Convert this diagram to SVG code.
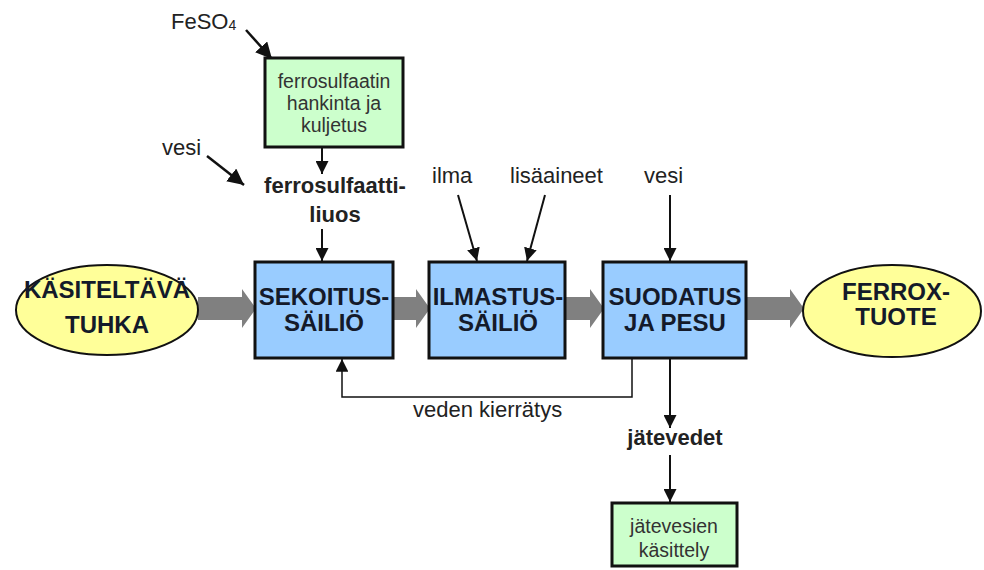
<svg xmlns="http://www.w3.org/2000/svg" width="984" height="570" viewBox="0 0 984 570">
<style>
  text{font-family:"Liberation Sans",Arial,sans-serif;}
  .big{font-size:24px;font-weight:bold;fill:#141a2a;text-anchor:middle;}
  .lbl{font-size:22px;fill:#222;}
  .blbl{font-size:22px;font-weight:bold;fill:#222;text-anchor:middle;}
  .gtxt{font-size:19.5px;fill:#333;text-anchor:middle;}
  .blue{fill:#99ccff;stroke:#111;stroke-width:3;}
  .green{fill:#ccffcc;stroke:#111;stroke-width:3;}
  .ell{fill:#ffff99;stroke:#111;stroke-width:2;}
  .conn{stroke:#111;stroke-width:2;fill:none;}
  .thk{stroke:#111;stroke-width:2.5;fill:none;}
  .thin{stroke:#111;stroke-width:1.5;fill:none;}
  .flow{fill:#808080;}
</style>
<defs>
  <marker id="ah" viewBox="0 0 10 10" refX="10" refY="5" markerWidth="6.5" markerHeight="6.5" orient="auto" markerUnits="strokeWidth">
    <path d="M0,0 L10,5 L0,10 z" fill="#111"/>
  </marker>
  <marker id="ah2" viewBox="0 0 10 10" refX="10" refY="5" markerWidth="8.5" markerHeight="8.5" orient="auto" markerUnits="strokeWidth">
    <path d="M0,0 L10,5 L0,10 z" fill="#111"/>
  </marker>
</defs>
<rect width="984" height="570" fill="#fff"/>

<g id="connectors">
  <path class="flow" d="M198,297 H242 V289 L256,308.5 L242,328 V320 H198 z"/>
  <path class="flow" d="M393,297 H416 V289 L430,308.5 L416,328 V320 H393 z"/>
  <path class="flow" d="M565,297 H590 V289 L604,308.5 L590,328 V320 H565 z"/>
  <path class="flow" d="M746,297 H790 V289 L804,308.5 L790,328 V320 H746 z"/>
  <line class="thk" x1="246" y1="30" x2="272" y2="59" marker-end="url(#ah)"/>
  <line class="thk" x1="207" y1="156" x2="244" y2="185" marker-end="url(#ah)"/>
  <line class="conn" x1="322" y1="148" x2="322" y2="174" marker-end="url(#ah)"/>
  <line class="conn" x1="322" y1="229" x2="322" y2="261" marker-end="url(#ah)"/>
  <line class="conn" x1="458" y1="195" x2="477" y2="261" marker-end="url(#ah)"/>
  <line class="conn" x1="545" y1="195" x2="527" y2="261" marker-end="url(#ah)"/>
  <line class="conn" x1="670" y1="195" x2="670" y2="261" marker-end="url(#ah)"/>
  <line class="conn" x1="670" y1="358" x2="670" y2="428" marker-end="url(#ah)"/>
  <line class="conn" x1="670" y1="455" x2="670" y2="502" marker-end="url(#ah)"/>
  <polyline class="thin" points="632,358 632,397 342,397 342,359" marker-end="url(#ah2)"/>
</g>

<g id="feso4">
  <text class="lbl" x="171" y="29">FeSO<tspan font-size="14" dy="1">4</tspan></text>
</g>
<g id="vesi1">
  <text class="lbl" x="162" y="155">vesi</text>
</g>
<g id="hankinta">
  <rect class="green" x="265" y="58" width="138" height="89"/>
  <text class="gtxt" x="334" y="88">ferrosulfaatin</text>
  <text class="gtxt" x="334" y="110">hankinta ja</text>
  <text class="gtxt" x="334" y="132">kuljetus</text>
</g>
<g id="liuos">
  <text class="blbl" x="335" y="193">ferrosulfaatti-</text>
  <text class="blbl" x="335" y="222">liuos</text>
</g>
<g id="ilma">
  <text class="lbl" x="432" y="183">ilma</text>
</g>
<g id="lisaaineet">
  <text class="lbl" x="510" y="183">lisäaineet</text>
</g>
<g id="vesi2">
  <text class="lbl" x="644" y="183">vesi</text>
</g>
<g id="tuhka">
  <ellipse class="ell" cx="107" cy="310" rx="91" ry="45"/>
  <text class="big" x="107" y="298">KÄSITELTÄVÄ</text>
  <text class="big" x="107" y="333">TUHKA</text>
</g>
<g id="sekoitus">
  <rect class="blue" x="255" y="262" width="138" height="96"/>
  <text class="big" x="324" y="305">SEKOITUS-</text>
  <text class="big" x="324" y="331">SÄILIÖ</text>
</g>
<g id="ilmastus">
  <rect class="blue" x="429" y="262" width="136" height="96"/>
  <text class="big" x="498" y="305">ILMASTUS-</text>
  <text class="big" x="498" y="331">SÄILIÖ</text>
</g>
<g id="suodatus">
  <rect class="blue" x="603" y="262" width="143" height="96"/>
  <text class="big" x="675" y="305">SUODATUS</text>
  <text class="big" x="675" y="331">JA PESU</text>
</g>
<g id="ferrox">
  <ellipse class="ell" cx="892" cy="311" rx="89" ry="46"/>
  <text class="big" x="896" y="300">FERROX-</text>
  <text class="big" x="896" y="325">TUOTE</text>
</g>
<g id="kierratys">
  <text class="lbl" x="413" y="417">veden kierrätys</text>
</g>
<g id="jatevedet">
  <text class="blbl" x="675" y="445">jätevedet</text>
</g>
<g id="jatevesien">
  <rect class="green" x="612" y="503" width="125" height="63"/>
  <text class="gtxt" x="674" y="533">jätevesien</text>
  <text class="gtxt" x="674" y="557">käsittely</text>
</g>
</svg>
